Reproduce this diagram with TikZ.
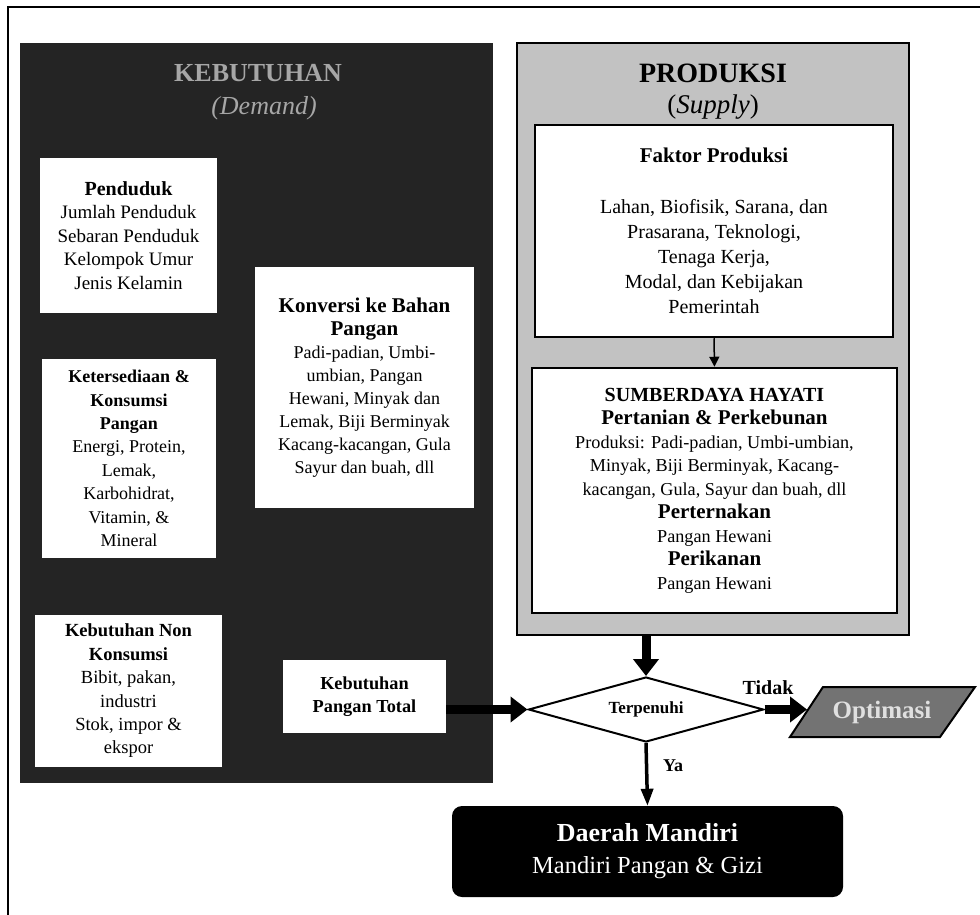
\documentclass[tikz,border=0pt]{standalone}
\usepackage{fontspec}
\setmainfont{Liberation Serif}
\usetikzlibrary{shapes.geometric,arrows.meta}
\newcommand{\hdtxt}[2]{{\fontsize{#1}{23}\selectfont\bfseries #2}}
\begin{document}
\begin{tikzpicture}[x=1pt,y=-1pt,
  darkpanel/.style={draw=none, fill=black!86, inner sep=0pt},
  lightpanel/.style={draw=black, line width=2.5pt, fill=black!24, inner sep=0pt},
  wbox/.style={fill=white, inner sep=0pt, align=center},
  bwbox/.style={fill=white, draw=black, line width=2.5pt, inner sep=0pt, align=center},
  bigarrow/.style={line width=9pt, -{Triangle[length=17pt,width=25pt]}},
  yaarrow/.style={line width=3.5pt, -{Triangle[length=17pt,width=12pt]}},
  smallarrow/.style={line width=1.5pt, -{Triangle[length=10pt,width=10pt]}},
  lbl/.style={inner sep=0pt, font=\fontsize{20}{23}\selectfont\bfseries}
]
\useasboundingbox (0,0) rectangle (980,915);
\draw[line width=2pt] (8,915) -- (8,7) -- (980,7);

% KEBUTUHAN panel
\node[darkpanel, minimum width=473pt, minimum height=740pt] (keb) at (256.5,413) {};
\node[inner sep=0pt, text=black!35, font=\fontsize{26}{28}\selectfont\bfseries] (kebt) at (258,73) {KEBUTUHAN};
\node[inner sep=0pt, text=black!35, font=\fontsize{26}{28}\selectfont\itshape] (kebd) at (264,108) {(Demand)};

\node[wbox, minimum width=177pt, minimum height=155pt, font=\fontsize{19}{23.5}\selectfont] (pend) at (128.5,235.5)
  {\hdtxt{20}{Penduduk}\\Jumlah Penduduk\\Sebaran Penduduk\\Kelompok Umur\\Jenis Kelamin};
\node[wbox, minimum width=174pt, minimum height=199pt, font=\fontsize{18}{23.4}\selectfont] (keter) at (129,458.5)
  {\textbf{Ketersediaan \&}\\\textbf{Konsumsi}\\\textbf{Pangan}\\Energi, Protein,\\Lemak,\\Karbohidrat,\\Vitamin, \&\\Mineral};
\node[wbox, minimum width=219pt, minimum height=241pt, font=\fontsize{18}{23}\selectfont] (konv) at (364.5,387.5)
  {\hdtxt{21}{Konversi ke Bahan}\\\hdtxt{21}{Pangan}\\Padi-padian, Umbi-\\umbian, Pangan\\Hewani, Minyak dan\\Lemak, Biji Berminyak\\Kacang-kacangan, Gula\\Sayur dan buah, dll};
\node[wbox, minimum width=187pt, minimum height=152pt, font=\fontsize{18.5}{23.4}\selectfont] (nonk) at (128.5,691)
  {\textbf{Kebutuhan Non}\\\textbf{Konsumsi}\\Bibit, pakan,\\industri\\Stok, impor \&\\ekspor};
\node[wbox, minimum width=163pt, minimum height=73pt, font=\fontsize{18.3}{23}\selectfont] (ptot) at (364.5,696.5)
  {\textbf{Kebutuhan}\\\textbf{Pangan Total}};

% PRODUKSI panel
\node[lightpanel, minimum width=392pt, minimum height=592pt] (prod) at (713,339) {};
\node[inner sep=0pt, font=\fontsize{28}{30}\selectfont\bfseries] (prodt) at (713,73) {PRODUKSI};
\node[inner sep=0pt, font=\fontsize{27}{30}\selectfont] (prods) at (713,107) {(\textit{Supply})};

\node[bwbox, minimum width=358pt, minimum height=212pt, font=\fontsize{20}{25}\selectfont] (faktor) at (714,231)
  {\hdtxt{21}{Faktor Produksi}\\[26pt]Lahan, Biofisik, Sarana, dan\\Prasarana, Teknologi,\\Tenaga Kerja,\\Modal, dan Kebijakan\\Pemerintah};
\node[bwbox, minimum width=365pt, minimum height=245pt, font=\fontsize{18.2}{23.5}\selectfont] (sumber) at (714.5,490.5)
  {\hdtxt{20}{SUMBERDAYA HAYATI}\\\hdtxt{21}{Pertanian \& Perkebunan}\\Produksi: Padi-padian, Umbi-umbian,\\Minyak, Biji Berminyak, Kacang-\\kacangan, Gula, Sayur dan buah, dll\\\hdtxt{21}{Perternakan}\\Pangan Hewani\\\hdtxt{21}{Perikanan}\\Pangan Hewani};

% decision
\node[diamond, draw=black, line width=2pt, fill=white, minimum width=235pt, minimum height=65pt, aspect=3.6, inner sep=0pt, font=\fontsize{17}{20}\selectfont\bfseries] (dia) at (646,709.5) {Terpenuhi};

% Optimasi
\draw[line width=2pt, fill=black!55] (790,737) -- (940,737) -- (975,687) -- (823,687) -- cycle;
\node[inner sep=0pt, text=black!12, font=\fontsize{25}{28}\selectfont\bfseries] (opt) at (882,712) {Optimasi};
\coordinate (optL) at (807,709.5);

% Daerah Mandiri
\node[fill=black, rounded corners=10pt, minimum width=391pt, minimum height=91pt, inner sep=0pt, text=white, align=center, font=\fontsize{24.5}{32}\selectfont] (daerah) at (647.5,851.5)
  {{\fontsize{26}{32}\selectfont\bfseries Daerah Mandiri}\\Mandiri Pangan \& Gizi};

% labels
\node[lbl] (tidak) at (768,688) {Tidak};
\node[lbl, font=\fontsize{18}{20}\selectfont\bfseries] (ya) at (673,766) {Ya};

% connectors
\draw[smallarrow] (faktor.south) -- (sumber.north);
\draw[bigarrow] (ptot.east |- dia.west) -- (dia.west);
\draw[bigarrow] (prod.south -| dia.north) -- (dia.north);
\draw[bigarrow] (dia.east) -- (optL);
\draw[yaarrow] (dia.south) -- (daerah.north);
\end{tikzpicture}
\end{document}
